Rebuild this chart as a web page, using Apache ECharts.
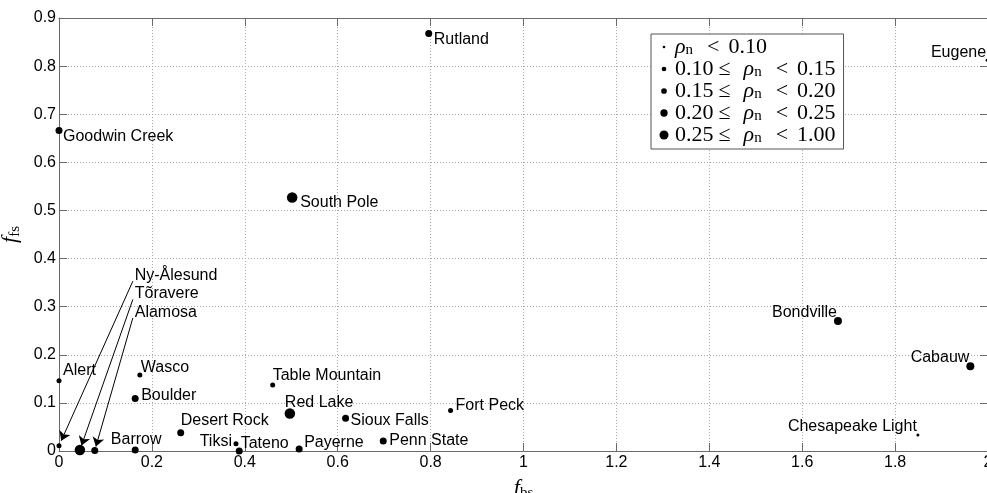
<!DOCTYPE html>
<html>
<head>
<meta charset="utf-8">
<script src="https://cdn.jsdelivr.net/npm/echarts@6/dist/echarts.min.js"></script>
<style>
  html, body { margin: 0; padding: 0; background: #fff; }
  #chart { width: 987px; height: 493px; }
</style>
</head>
<body>
<div id="chart"></div>
<script>
// Station fractions: f_bs (x) and f_fs (y), plus the rho_n class of each station
const stations = ['Goodwin Creek', 'Rutland', 'South Pole', 'Eugene', 'Bondville', 'Cabauw',
  'Chesapeake Light', 'Alert', 'Wasco', 'Boulder', 'Table Mountain', 'Red Lake', 'Fort Peck',
  'Desert Rock', 'Sioux Falls', 'Penn State', 'Barrow', 'Tiksi', 'Tateno', 'Payerne',
  'Ny-Ålesund', 'Tõravere', 'Alamosa'];
const fbs = [0.000, 0.796, 0.502, 1.998, 1.677, 1.962,
  1.849, 0.000, 0.174, 0.164, 0.460, 0.497, 0.843,
  0.262, 0.617, 0.698, 0.164, 0.381, 0.388, 0.517,
  0.000, 0.045, 0.077];
const ffs = [0.666, 0.868, 0.527, 0.812, 0.270, 0.176,
  0.033, 0.146, 0.158, 0.109, 0.137, 0.078, 0.084,
  0.038, 0.068, 0.021, 0.002, 0.015, 0.000, 0.004,
  0.011, 0.002, 0.001];
const rhoClass = [2, 2, 4, 0, 3, 3,
  0, 1, 1, 2, 1, 4, 1,
  2, 2, 2, 2, 1, 2, 2,
  1, 4, 2];
const rhoBins = [0, 0.10, 0.15, 0.20, 0.25, 1.00];

// Stations named by a callout with an arrow, and where their text sits (data units)
const calloutStations = ['Ny-Ålesund', 'Tõravere', 'Alamosa'];
const calloutAnchor = [[0.163, 0.365], [0.163, 0.327], [0.163, 0.2886]];

// ---- styling ----
const SANS = 'Liberation Sans, Arial, sans-serif';
const SERIF = 'Liberation Serif, Times New Roman, serif';
const markerSize = [3, 5, 7, 8, 10.5];
const legendDot = [2.7, 4.7, 5.7, 7.3, 9];
const AXIS_COLOR = '#6a6a6a';

// label anchor relative to the marker centre: [align, dx, dy]
const labelPlacement = {
  'Goodwin Creek': ['left', 4, 6.3],
  'Rutland': ['left', 5, 5.7],
  'South Pole': ['left', 8, 4.7],
  'Eugene': ['right', -1, -8],
  'Bondville': ['right', -1, -9],
  'Cabauw': ['right', -1, -9],
  'Chesapeake Light': ['right', -1, -9],
  'Alert': ['left', 4, -10],
  'Wasco': ['left', 1, -7],
  'Boulder': ['left', 6, -3],
  'Table Mountain': ['left', 0, -9],
  'Red Lake': ['left', -5, -11],
  'Fort Peck': ['left', 5, -4.5],
  'Desert Rock': ['left', 0, -12],
  'Sioux Falls': ['left', 5, 2],
  'Penn State': ['left', 6, 0],
  'Barrow': ['center', 1, -10],
  'Tiksi': ['right', -4, -2],
  'Tateno': ['left', 1.5, -7],
  'Payerne': ['left', 5, -6]
};

function fmt(v) { return v.toFixed(2); }

const classNames = rhoBins.slice(0, -1).map((lo, c) =>
  c === 0 ? 'rho < ' + fmt(rhoBins[1]) : fmt(lo) + ' <= rho < ' + fmt(rhoBins[c + 1]));

function legendRich(c) {
  const rho = '{r|ρ}{n|n}';
  if (c === 0) return rho + '{lt|<}{t|' + fmt(rhoBins[1]) + '}';
  return '{t|' + fmt(rhoBins[c]) + '}{le|≤}' + rho + '{lt|<}{t|' + fmt(rhoBins[c + 1]) + '}';
}

// circle of diameter d inside a fixed 12x12 box, so legend dots keep their relative size
function dotIcon(d) {
  const r = d / 2, a = 6 - r, b = 6 + r;
  return 'path://M0,0M12,12M' + a + ',6A' + r + ',' + r + ',0,1,1,' + b + ',6A' + r + ',' + r + ',0,1,1,' + a + ',6Z';
}

const series = classNames.map((nm, c) => {
  const data = [];
  stations.forEach((s, i) => {
    if (rhoClass[i] !== c) return;
    const p = labelPlacement[s];
    data.push({
      name: s,
      value: [fbs[i], ffs[i]],
      label: p ? { show: true, align: p[0], offset: [p[1], p[2]] } : { show: false }
    });
  });
  return {
    name: nm,
    type: 'scatter',
    symbol: 'circle',
    symbolSize: markerSize[c],
    itemStyle: { color: '#000', opacity: 1 },
    label: {
      show: true,
      position: 'inside',
      verticalAlign: 'middle',
      formatter: '{b}',
      color: '#000',
      opacity: 1,
      fontFamily: SANS,
      fontSize: 16
    },
    emphasis: { disabled: true },
    data: data,
    z: 3
  };
});

// callout texts and arrows for the crowded corner near the origin
const calloutData = calloutStations.map((s, k) => ({
  name: s,
  value: calloutAnchor[k]
}));
const calloutLines = calloutStations.map((s, k) => {
  const i = stations.indexOf(s);
  const tail = [calloutAnchor[k][0] - 0.004, calloutAnchor[k][1] - 0.012];
  const head = [fbs[i], ffs[i]];
  const pull = 0.03;
  return [
    { coord: tail },
    { coord: [head[0] + (tail[0] - head[0]) * pull, head[1] + (tail[1] - head[1]) * pull] }
  ];
});
series.push({
  name: 'callouts',
  type: 'scatter',
  symbol: 'circle',
  symbolSize: 0,
  silent: true,
  itemStyle: { color: '#000', opacity: 1 },
  label: {
    show: true,
    position: 'inside',
    align: 'left',
    verticalAlign: 'middle',
    formatter: '{b}',
    color: '#000',
    opacity: 1,
    fontFamily: SANS,
    fontSize: 16
  },
  data: calloutData,
  markLine: {
    silent: true,
    animation: false,
    symbol: ['none', 'arrow'],
    symbolSize: 9,
    label: { show: false },
    itemStyle: { color: '#000' },
    lineStyle: { color: '#000', width: 1, type: 'solid', opacity: 1 },
    emphasis: { disabled: true },
    data: calloutLines
  },
  z: 4
});

const richLegend = {
  t: { fontFamily: SERIF, fontSize: 22, lineHeight: 21, color: '#000' },
  le: { fontFamily: SERIF, fontSize: 22, lineHeight: 21, color: '#000', padding: [0, 13, 0, 5] },
  lt: { fontFamily: SERIF, fontSize: 22, lineHeight: 21, color: '#000', padding: [0, 9, 0, 11] },
  r: { fontFamily: SERIF, fontStyle: 'italic', fontSize: 22, lineHeight: 21, color: '#000' },
  n: { fontFamily: SERIF, fontSize: 15, lineHeight: 12, verticalAlign: 'bottom', color: '#000', padding: [0, 3, 0, 0] }
};
const richName = {
  f: { fontFamily: SERIF, fontStyle: 'italic', fontSize: 22, lineHeight: 26, color: '#000' },
  s: { fontFamily: SERIF, fontSize: 15, lineHeight: 14, verticalAlign: 'bottom', color: '#000' }
};

const baseAxis = {
  type: 'value',
  axisLine: { show: true, onZero: false, lineStyle: { color: AXIS_COLOR, width: 1 } },
  axisTick: { show: true, inside: true, length: 8, lineStyle: { color: AXIS_COLOR } },
  splitLine: { show: false },
  axisLabel: { show: false }
};
const gridLine = { show: true, lineStyle: { color: '#a8a8a8', width: 1, type: [1, 2] } };
const tickLabel = { show: true, color: '#000', fontFamily: SANS, fontSize: 16, margin: 4,
  showMinLabel: true, showMaxLabel: true, hideOverlap: false };

const option = {
  animation: false,
  backgroundColor: '#fff',
  grid: { left: 59, top: 18, width: 929, height: 433, containLabel: false, outerBoundsMode: 'none' },
  legend: {
    orient: 'vertical',
    left: 651,
    top: 34,
    padding: [2, 8, 3, 7],
    itemGap: 0,
    itemWidth: 12,
    itemHeight: 12,
    backgroundColor: '#fff',
    borderColor: '#555',
    borderWidth: 1,
    borderRadius: 0,
    selectedMode: false,
    itemStyle: { opacity: 1, color: '#000' },
    data: classNames.map((nm, c) => ({ name: nm, icon: dotIcon(legendDot[c]) })),
    formatter: name => legendRich(classNames.indexOf(name)),
    textStyle: { rich: richLegend, fontFamily: SERIF, fontSize: 22, lineHeight: 21 }
  },
  xAxis: [
    Object.assign({}, baseAxis, {
      min: 0, max: 2, interval: 0.2, position: 'bottom',
      axisLabel: tickLabel,
      splitLine: gridLine,
      name: '{f|f}{s|bs}',
      nameLocation: 'middle',
      nameGap: 24,
      nameTextStyle: { rich: richName }
    }),
    Object.assign({}, baseAxis, { min: 0, max: 2, interval: 0.2, position: 'top' })
  ],
  yAxis: [
    Object.assign({}, baseAxis, {
      min: 0, max: 0.9, interval: 0.1, position: 'left',
      axisLabel: Object.assign({}, tickLabel, { margin: 3 }),
      splitLine: gridLine,
      name: '{f|f}{s|fs}',
      nameLocation: 'middle',
      nameGap: 30,
      nameTextStyle: { rich: richName }
    }),
    Object.assign({}, baseAxis, { min: 0, max: 0.9, interval: 0.1, position: 'right' })
  ],
  series: series
};

const chart = echarts.init(document.getElementById('chart'), null, { renderer: 'canvas' });
chart.setOption(option);
</script>
</body>
</html>
